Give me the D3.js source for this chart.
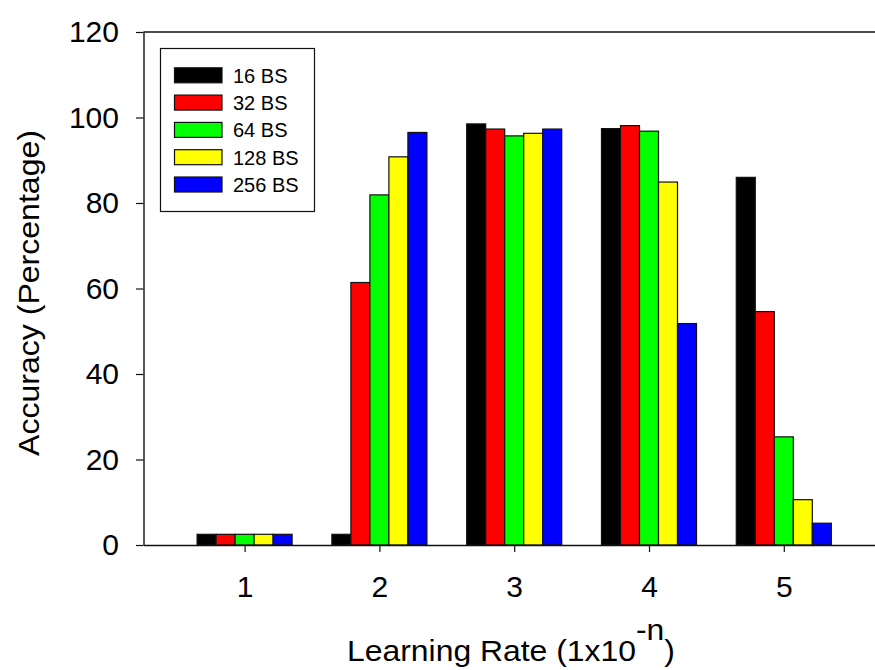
<!DOCTYPE html>
<html>
<head>
<meta charset="utf-8">
<script src="https://cdn.jsdelivr.net/npm/d3@7"></script>
<style>
  html, body { margin: 0; padding: 0; background: #fff; }
  svg { display: block; font-family: "Liberation Sans", Arial, sans-serif; }
</style>
</head>
<body>
<svg id="chart" width="875" height="670"></svg>
<script>
// ---- data ----
const categories = [1, 2, 3, 4, 5];
const seriesNames = ["16 BS", "32 BS", "64 BS", "128 BS", "256 BS"];
const seriesColors = ["#000000", "#ff0000", "#00ff00", "#ffff00", "#0000ff"];
const bs16  = [2.5, 2.5, 98.5, 97.4, 86.0];
const bs32  = [2.5, 61.4, 97.3, 98.1, 54.6];
const bs64  = [2.5, 81.9, 95.7, 96.8, 25.3];
const bs128 = [2.5, 90.8, 96.3, 84.9, 10.6];
const bs256 = [2.5, 96.5, 97.3, 51.8, 5.1];
const yTicks = [0, 20, 40, 60, 80, 100, 120];
const xTitle = "Learning Rate (1x10";
const xTitleSup = "-n";
const yTitle = "Accuracy (Percentage)";

const seriesValues = [bs16, bs32, bs64, bs128, bs256];

// ---- layout ----
const svg = d3.select("#chart");
const x0 = 143.5, yTop = 32, yBottom = 545;

const x = d3.scaleLinear().domain([0.25, 5.75]).range([x0, x0 + 5.5 * 134.8]);
const y = d3.scaleLinear().domain([0, 120]).range([yBottom, yTop]);
const groupW = x(1.705) - x(1);
const inner = d3.scaleBand().domain(d3.range(seriesNames.length)).range([-groupW / 2, groupW / 2]).padding(0);

// bars
const rows = [];
categories.forEach((c, ci) => {
  seriesValues.forEach((vals, si) => rows.push({ c, si, v: vals[ci] }));
});
svg.append("g").selectAll("rect").data(rows).join("rect")
  .attr("x", d => x(d.c) + inner(d.si))
  .attr("width", inner.bandwidth())
  .attr("y", d => y(d.v))
  .attr("height", d => y(0) - y(d.v))
  .attr("fill", d => seriesColors[d.si])
  .attr("stroke", "#111")
  .attr("stroke-width", 1.2);

// top frame line
svg.append("line")
  .attr("x1", x0).attr("x2", 875)
  .attr("y1", yTop).attr("y2", yTop)
  .attr("stroke", "#111").attr("stroke-width", 1.4);

// y axis
const yAxis = svg.append("g")
  .attr("transform", `translate(${x0},0)`)
  .call(d3.axisLeft(y).tickValues(yTicks).tickSize(7.5).tickPadding(17).tickSizeOuter(0));
yAxis.select(".domain").attr("stroke", "#111").attr("stroke-width", 1.4);
yAxis.selectAll(".tick line").attr("stroke", "#111").attr("stroke-width", 1.2);
yAxis.selectAll("text").attr("font-size", 30).attr("font-family", "Liberation Sans, Arial, sans-serif").attr("fill", "#000");

// x axis
const xAxis = svg.append("g")
  .attr("transform", `translate(0,${yBottom})`)
  .call(d3.axisBottom(x).tickValues(categories).tickSize(7).tickSizeOuter(0).tickFormat(d3.format("d")));
xAxis.select(".domain").attr("stroke", "#111").attr("stroke-width", 1.4);
xAxis.selectAll(".tick line").attr("stroke", "#111").attr("stroke-width", 1.2);
xAxis.selectAll("text").attr("font-size", 30).attr("font-family", "Liberation Sans, Arial, sans-serif")
  .attr("fill", "#000").attr("y", 52).attr("dy", null);

// x title
const xt = svg.append("text")
  .attr("x", 511).attr("y", 661)
  .attr("text-anchor", "middle")
  .attr("font-size", 29)
  .attr("textLength", 328)
  .attr("lengthAdjust", "spacingAndGlyphs");
xt.append("tspan").text(xTitle);
xt.append("tspan").attr("dy", -21).text(xTitleSup);
xt.append("tspan").attr("dy", 21).text(")");

// y title
svg.append("text")
  .attr("transform", "translate(39,293) rotate(-90)")
  .attr("text-anchor", "middle")
  .attr("font-size", 29)
  .attr("textLength", 326)
  .attr("lengthAdjust", "spacingAndGlyphs")
  .text(yTitle);

// legend
const lg = svg.append("g");
lg.append("rect")
  .attr("x", 160.5).attr("y", 48.5).attr("width", 154).attr("height", 163)
  .attr("fill", "#fff").attr("stroke", "#111").attr("stroke-width", 1.2);
const items = lg.selectAll("g.item").data(seriesNames).join("g")
  .attr("class", "item")
  .attr("transform", (d, i) => `translate(0,${75.3 + i * 27.3})`);
items.append("rect")
  .attr("x", 174.5).attr("y", -7.5).attr("width", 47.5).attr("height", 15)
  .attr("fill", (d, i) => seriesColors[i])
  .attr("stroke", "#111").attr("stroke-width", 1.2);
items.append("text")
  .attr("x", 233).attr("y", 7.5)
  .attr("font-size", 20)
  .text(d => d);
</script>
</body>
</html>
